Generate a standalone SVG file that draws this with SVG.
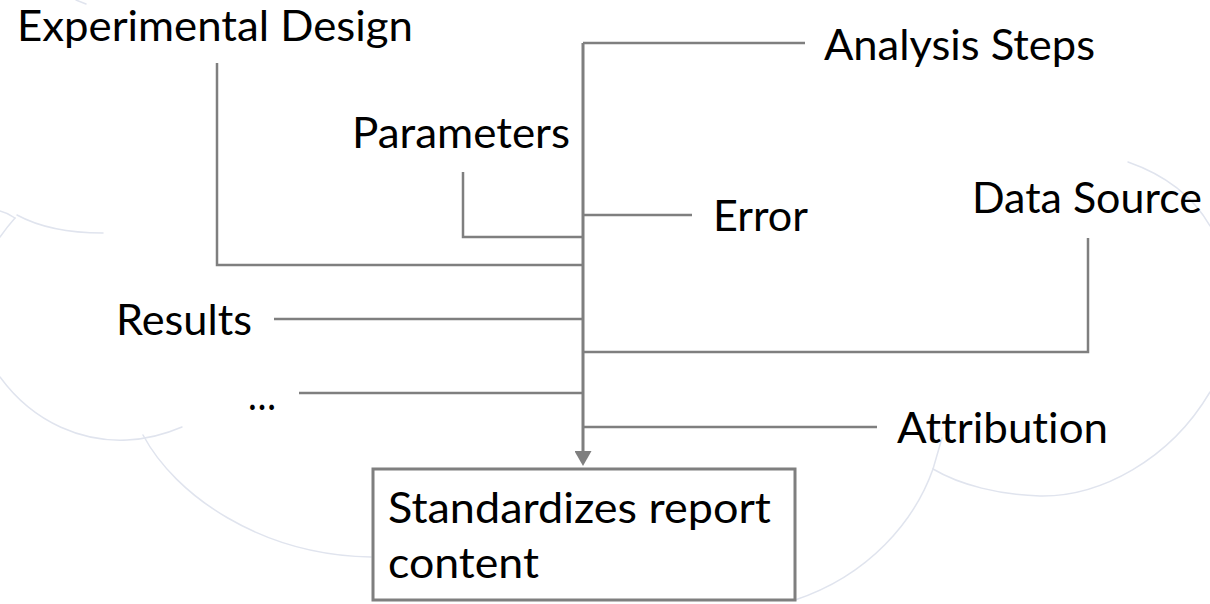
<svg xmlns="http://www.w3.org/2000/svg" width="1210" height="604" viewBox="0 0 1210 604">
  <style>
    .cloud { fill: none; stroke: #e0e4ee; stroke-width: 1.5; stroke-linecap: round; }
    .wire { fill: none; stroke: #7f7f7f; stroke-width: 2.5; }
    .trunk { fill: none; stroke: #7f7f7f; stroke-width: 3; }
    .label { font-family: Lato, "Open Sans", "Liberation Sans", sans-serif; font-size: 43px; fill: #000; font-variant-ligatures: none; }
    .box { fill: #fff; stroke: #7f7f7f; stroke-width: 3; }
  </style>
  <defs>
    <marker id="arrow" markerUnits="userSpaceOnUse" markerWidth="16" markerHeight="17" refX="4" refY="8.5" orient="auto">
      <path d="M0,0 L15,8.5 L0,17 Z" fill="#7f7f7f"/>
    </marker>
  </defs>

  <rect width="1210" height="604" fill="#fff"/>

  <!-- faint cloud outline in the background -->
  <g id="cloud">
    <path class="cloud" d="M76,0 Q81,2 86,4"/>
    <path class="cloud" d="M0,211 Q8,213 15,218"/>
    <path class="cloud" d="M15,218 Q7,227 0,237"/>
    <path class="cloud" d="M17,215 Q50,233 103,233"/>
    <path class="cloud" d="M0,377 C35,425 85,442 127,440 C150,439 168,433 182,427"/>
    <path class="cloud" d="M143,435 C175,495 260,555 371,557"/>
    <path class="cloud" d="M1128,162 Q1185,182 1210,226"/>
    <path class="cloud" d="M1210,392 C1170,460 1100,497 1040,496 C1000,495 960,485 933,469"/>
    <path class="cloud" d="M933,469 Q937,455 942,438"/>
    <path class="cloud" d="M933,469 C915,520 870,575 795,600"/>
  </g>

  <!-- connectors feeding the central trunk -->
  <g id="connectors">
    <path class="trunk" d="M583,43 V455" marker-end="url(#arrow)"/>
    <path class="wire" d="M583,43 H805"/>
    <path class="wire" d="M217,63 V265 H583"/>
    <path class="wire" d="M463,172 V237 H583"/>
    <path class="wire" d="M583,215 H692"/>
    <path class="wire" d="M1088,238 V352 H583"/>
    <path class="wire" d="M274,319 H583"/>
    <path class="wire" d="M299,393 H583"/>
    <path class="wire" d="M583,427 H877"/>
  </g>

  <g id="experimental-design">
    <text class="label" x="17" y="41" textLength="396" lengthAdjust="spacingAndGlyphs">Experimental Design</text>
  </g>
  <g id="analysis-steps">
    <text class="label" x="824" y="60" textLength="271" lengthAdjust="spacingAndGlyphs">Analysis Steps</text>
  </g>
  <g id="parameters">
    <text class="label" x="352" y="148" textLength="218" lengthAdjust="spacingAndGlyphs">Parameters</text>
  </g>
  <g id="error">
    <text class="label" x="713" y="231" textLength="95" lengthAdjust="spacingAndGlyphs">Error</text>
  </g>
  <g id="data-source">
    <text class="label" x="972" y="213" textLength="230" lengthAdjust="spacingAndGlyphs">Data Source</text>
  </g>
  <g id="results">
    <text class="label" x="116" y="335" textLength="136" lengthAdjust="spacingAndGlyphs">Results</text>
  </g>
  <g id="more">
    <text class="label" x="248" y="410" textLength="28" lengthAdjust="spacingAndGlyphs">…</text>
  </g>
  <g id="attribution">
    <text class="label" x="897" y="443" textLength="211" lengthAdjust="spacingAndGlyphs">Attribution</text>
  </g>
  <g id="report">
    <rect class="box" x="373" y="469" width="422" height="131"/>
    <text class="label" x="388" y="523" textLength="383" lengthAdjust="spacingAndGlyphs">Standardizes report</text>
    <text class="label" x="388" y="578" textLength="151" lengthAdjust="spacingAndGlyphs">content</text>
  </g>
</svg>
